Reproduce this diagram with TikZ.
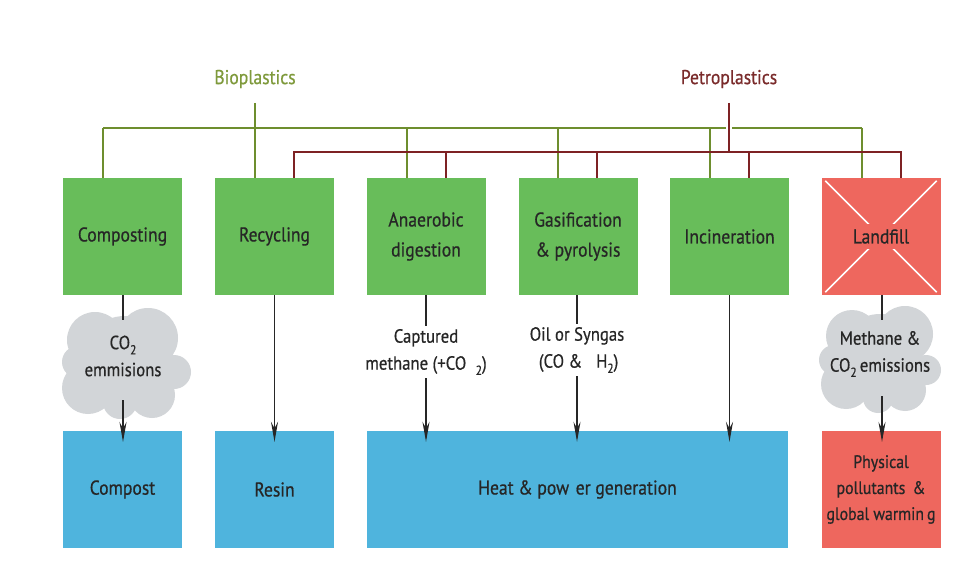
\documentclass[tikz,border=0pt]{standalone}
\usepackage{fontspec}
\setmainfont[FakeStretch=0.88,FakeBold=0.6]{PT Sans}
\usetikzlibrary{arrows.meta,calc}
\definecolor{boxgreen}{HTML}{68BD5A}
\definecolor{boxblue}{HTML}{4FB4DD}
\definecolor{boxred}{HTML}{EE675E}
\definecolor{bioline}{HTML}{6E8E2E}
\definecolor{biotext}{HTML}{7F9A3C}
\definecolor{petline}{HTML}{7E2224}
\definecolor{pettext}{HTML}{7A2B2B}
\definecolor{cloudgray}{HTML}{D2D5D8}
\definecolor{txt}{HTML}{262626}
\newcommand{\lowtwo}{\raisebox{-0.55ex}{\fontsize{13}{13}\selectfont 2}}
\tikzset{
  pbox/.style={rectangle, inner sep=0pt, minimum width=119pt, minimum height=117pt, align=center, text=txt, font=\fontsize{20}{30}\selectfont},
  gbox/.style={pbox, fill=boxgreen},
  bbox/.style={pbox, fill=boxblue},
  rbox/.style={pbox, fill=boxred},
  gline/.style={draw=bioline, line width=2pt},
  rline/.style={draw=petline, line width=2.6pt},
  arr/.style={draw=txt, line width=1.3pt, -{Stealth[length=20pt,width=7pt]}},
  plain/.style={draw=txt, line width=1.3pt},
  midlbl/.style={align=center, text=txt, font=\fontsize{19}{27}\selectfont, inner sep=3pt},
  cloud/.style={fill=cloudgray}
}
\begin{document}
\begin{tikzpicture}[x=1pt,y=-1pt]
\useasboundingbox (0,0) rectangle (979,561);
\fill[white] (0,0) rectangle (979,561);

% top labels
\node[text=biotext, font=\fontsize{20}{22}\selectfont] (bio) at (255,79) {Bioplastics};
\node[text=pettext, font=\fontsize{20}{22}\selectfont] (pet) at (729,79) {Petroplastics};

% top boxes
\node[gbox] (comp) at (122.5,236.5) {Composting};
\node[gbox] (recy) at (274.5,236.5) {Recycling};
\node[gbox] (anae) at (426,236.5) {Anaerobic\\digestion};
\node[gbox] (gasi) at (578,236.5) {Gasification\\\& pyrolysis};
\node[gbox] (inci) at (729.5,236.5) {Incineration};
\node[rbox] (land) at (881,236.5) {};
\draw[white, line width=1.6pt] ($(land.north west)+(4,3)$) -- ($(land.south east)+(-4,-3)$);
\draw[white, line width=1.6pt] ($(land.north east)+(-4,3)$) -- ($(land.south west)+(4,-3)$);
\node[fill=boxred, text=txt, font=\fontsize{20}{22}\selectfont, inner sep=5pt] (landlbl) at (land.center) {Landfill};

% bottom boxes
\node[bbox] (compost) at (122.5,489.5) {Compost};
\node[bbox] (resin) at (274.5,489.5) {Resin};
\node[bbox, minimum width=421pt] (heat) at (577.5,489.5) {Heat \& pow\,\,er generation};
\node[rbox, font=\fontsize{18}{26}\selectfont] (phys) at (881,489.5) {Physical\\pollutants \,\&\\global warmin\,g};

% bioplastics bus
\coordinate (gL) at (103,128);
\coordinate (gR) at (862,128);
\coordinate (g2) at (255,128);
\coordinate (g3) at (407,128);
\coordinate (g4) at (558,128);
\coordinate (g5) at (710,128);
\draw[gline] (bio.south |- 0,103) -- (g2);
\draw[gline] (gL) -- (gR);
\draw[gline] (gL) -- (gL |- comp.north);
\draw[gline] (g2) -- (g2 |- recy.north);
\draw[gline] (g3) -- (g3 |- anae.north);
\draw[gline] (g4) -- (g4 |- gasi.north);
\draw[gline] (g5) -- (g5 |- inci.north);
\draw[gline] (gR) -- (gR |- land.north);

% petroplastics bus
\coordinate (rL) at (294,152);
\coordinate (rR) at (901,152);
\coordinate (r3) at (446,152);
\coordinate (r4) at (597,152);
\coordinate (r5) at (749,152);
\coordinate (rP) at (729,152);
\draw[white, line width=6pt] (729,122) -- (729,134);
\draw[rline] (rL |- recy.north) -- (rL) -- (rR) -- (rR |- land.north);
\draw[rline] (r3) -- (r3 |- anae.north);
\draw[rline] (r4) -- (r4 |- gasi.north);
\draw[rline] (r5) -- (r5 |- inci.north);
\draw[rline] (pet.south |- 0,103) -- (rP);

% clouds
\begin{scope}
\fill[cloudgray] (95,340) circle (28);
\fill[cloudgray] (148,338) circle (30);
\fill[cloudgray] (125,362) circle (46);
\fill[cloudgray] (174,372) circle (17);
\fill[cloudgray] (88,388) circle (26);
\fill[cloudgray] (152,395) circle (23);
\fill[cloudgray] (120,402) circle (17);
\fill[cloudgray] (78,362) circle (16);
\end{scope}
\begin{scope}
\fill[cloudgray] (852,336) circle (26);
\fill[cloudgray] (905,334) circle (28);
\fill[cloudgray] (880,356) circle (42);
\fill[cloudgray] (926,370) circle (15);
\fill[cloudgray] (846,384) circle (25);
\fill[cloudgray] (905,390) circle (21);
\fill[cloudgray] (878,398) circle (15);
\fill[cloudgray] (834,360) circle (15);
\end{scope}

% middle labels
\node[midlbl] (co2c) at (123,356) {CO\lowtwo\\emmisions};
\node[midlbl] (capt) at (426,352) {Captured\\methane (+CO\,\,\,\lowtwo)};
\node[midlbl] (syng) at (577,350) {Oil or Syngas\\\,(CO \&\,\,\, H\lowtwo)};
\node[midlbl] (meth) at (880,354) {Methane \&\\CO\lowtwo\,emissions};

% flows
\draw[plain] (comp.south -| 123,0) -- (123,320);
\draw[arr] (123,400) -- (123,442);
\draw[arr] (recy.south) -- ($(resin.north)+(0,11)$);
\draw[plain] (anae.south) -- (capt.north);
\draw[arr] (capt.south) -- ($(capt.south |- heat.north)+(0,11)$);
\draw[plain] (gasi.south -| syng.north) -- (syng.north);
\draw[arr] (syng.south) -- ($(syng.south |- heat.north)+(0,11)$);
\draw[arr] (inci.south) -- ($(inci.south |- heat.north)+(0,11)$);
\draw[plain] (land.south -| 882,0) -- (882,320);
\draw[arr] (882,396) -- (882,442);
\end{tikzpicture}
\end{document}
